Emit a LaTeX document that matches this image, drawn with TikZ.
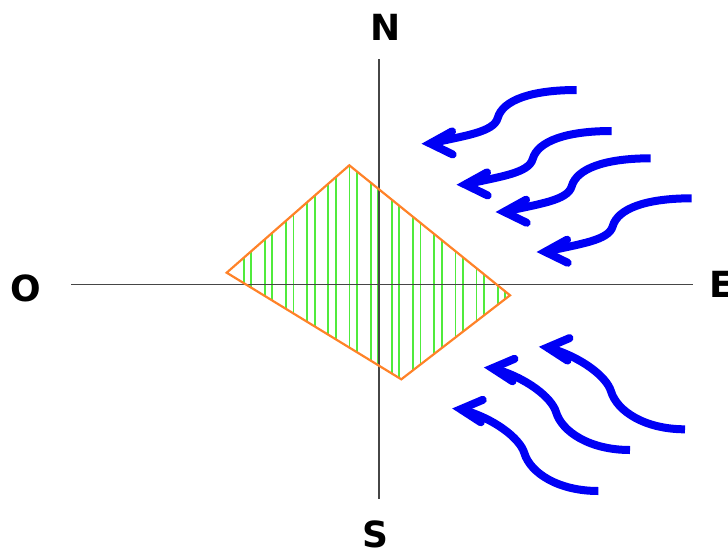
\documentclass[tikz,border=0pt]{standalone}
\usepackage{fontspec}
\newfontfamily\lblfont{DejaVu Sans}
\definecolor{axisgray}{RGB}{70,70,70}
\definecolor{kiteorange}{RGB}{255,130,40}
\definecolor{hatchgreen}{RGB}{80,235,60}
\definecolor{windblue}{RGB}{0,0,245}
\tikzset{
  axisline/.style={draw=axisgray, line width=1.3pt},
  kiteline/.style={draw=kiteorange, line width=2.2pt, line join=miter},
  hatchline/.style={draw=hatchgreen, line width=1.8pt},
  windline/.style={draw=windblue, line width=8pt, line cap=butt},
  windhead/.style={draw=windblue, line width=8pt, line cap=round, line join=miter},
  lbl/.style={inner sep=0pt, font=\lblfont\bfseries\fontsize{36}{40}\selectfont}
}
\newcommand{\windNE}[1]{%
  \begin{scope}[shift={#1}]
    \coordinate (t) at (0,0);
    \coordinate (m) at (-79,-28);
    \coordinate (p) at (-146.5,-53.5);
    \draw[windline] (t) .. controls (-45,0) and (-74,-10) .. (m)
                        .. controls (-83,-42.4) and (-112.4,-45.6) .. (p);
    \draw[windhead] ([shift={(29:25)}]p) -- (p) -- ([shift={(-26:25)}]p);
  \end{scope}}
\newcommand{\windSE}[1]{%
  \begin{scope}[shift={#1}]
    \coordinate (t) at (0,0);
    \coordinate (m) at (-74,38);
    \coordinate (p) at (-137.6,81.8);
    \draw[windline] (t) .. controls (-40,0) and (-68,18) .. (m)
                        .. controls (-78.3,52.4) and (-103.8,72.7) .. (p);
    \draw[windhead] ([shift={(23:24)}]p) -- (p) -- ([shift={(-33:24)}]p);
  \end{scope}}
\begin{document}
\begin{tikzpicture}[x=1pt,y=1pt]
\useasboundingbox (0,0) rectangle (728,-549);

% kite hatching
\coordinate (kl) at (226.7,-272.7);
\coordinate (kt) at (349.3,-165.3);
\coordinate (kr) at (510,-295.3);
\coordinate (kb) at (401.3,-379.3);
\begin{scope}
  \clip (kl) -- (kt) -- (kr) -- (kb) -- cycle;
  \foreach \i in {0,...,12}{
    \pgfmathsetmacro{\hx}{243.7+21.17*\i}
    \draw[hatchline] (\hx,-150) -- (\hx,-400);
    \draw[hatchline] (\hx+7.4,-150) -- (\hx+7.4,-400);
  }
\end{scope}

% axes
\coordinate (axw) at (71,-284.5);
\coordinate (axe) at (693.3,-284.5);
\coordinate (axn) at (379,-59);
\coordinate (axs) at (379,-499);
\draw[axisline] (axw) -- (axe);
\draw[axisline] (axn) -- (axs);

\draw[kiteline] (kl) -- (kt) -- (kr) -- (kb) -- cycle;

% labels
\node[lbl] (lN) at (386,-27) {N};
\node[lbl] (lS) at (375,-534) {S};
\node[lbl] (lO) at (26.3,-288) {O};
\node[lbl, anchor=west] (lE) at (709,-284) {E};

% wind arrows
\windNE{(576.7,-90)}
\windNE{(611.7,-131)}
\windNE{(650.7,-158.3)}
\windNE{(691.7,-198.3)}
\windSE{(685,-429.3)}
\windSE{(630,-450)}
\windSE{(598.3,-491)}
\end{tikzpicture}
\end{document}
